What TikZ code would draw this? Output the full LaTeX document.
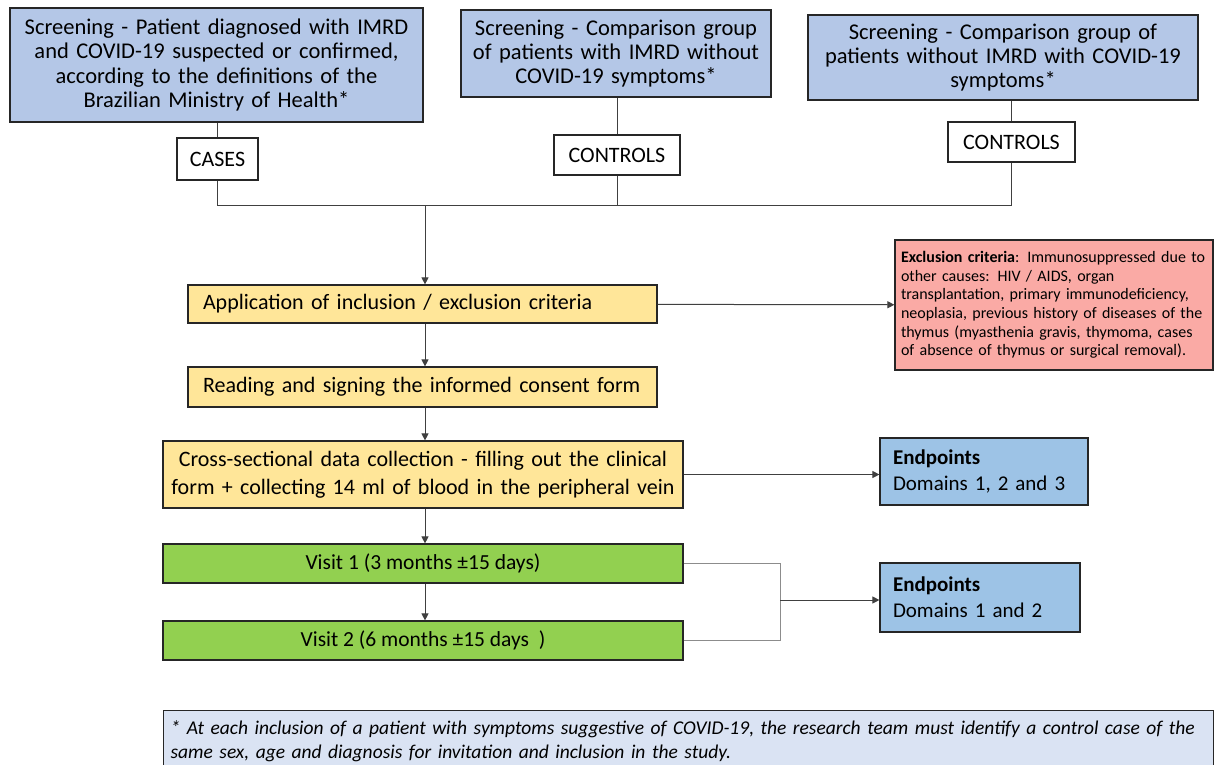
\documentclass[tikz,border=0pt]{standalone}
\usepackage{fontspec}
\setmainfont{Carlito}
\usetikzlibrary{arrows.meta}
\definecolor{topblue}{HTML}{B4C7E7}
\definecolor{ylw}{HTML}{FFE699}
\definecolor{pinkred}{RGB}{250,170,165}
\definecolor{endblue}{HTML}{9DC3E6}
\definecolor{grn}{HTML}{92D050}
\definecolor{footblue}{HTML}{DAE3F3}
\definecolor{bord}{HTML}{262626}
\tikzset{
  box/.style={draw=bord, line width=1.2pt, rectangle, inner sep=0pt, align=center},
  screen/.style={box, fill=topblue, font=\fontsize{22.5}{24.3}\selectfont},
  tag/.style={box, fill=white, font=\fontsize{22}{24}\selectfont},
  ybox/.style={box, fill=ylw, font=\fontsize{22}{28}\selectfont},
  gbox/.style={box, fill=grn, font=\fontsize{21.5}{26}\selectfont},
  ebox/.style={box, fill=endblue, font=\fontsize{21}{26}\selectfont, align=left},
  conn/.style={draw=black!75, line width=1pt},
  lconn/.style={draw=black!45, line width=1pt},
  arr/.style={conn, -{Triangle[length=7pt,width=7pt]}},
}
\begin{document}
\begin{tikzpicture}[x=1pt,y=-1pt]
\useasboundingbox (0,0) rectangle (1215,764);
% top screening boxes
\node[screen, minimum width=413, minimum height=114, text width=410] (A) at (216.5,65)
  {Screening - Patient diagnosed with IMRD\\ and COVID-19 suspected or confirmed,\\ according to the definitions of the\\ Brazilian Ministry of Health*};
\node[screen, minimum width=310, minimum height=87, text width=308] (B) at (616,53.5)
  {Screening - Comparison group\\ of patients with IMRD without\\ COVID-19 symptoms*};
\node[screen, minimum width=390, minimum height=85, text width=388] (C) at (1003,57.5)
  {Screening - Comparison group of\\ patients without IMRD with COVID-19\\ symptoms*};
% tags
\node[tag, minimum width=81, minimum height=42] (cases) at (217.5,159) {CASES};
\node[tag, minimum width=126, minimum height=40] (ctl1) at (617,155) {CONTROLS};
\node[tag, minimum width=127, minimum height=40] (ctl2) at (1011.5,142) {CONTROLS};
\coordinate (j) at (425,205);
% flow
\node[ybox, minimum width=469, minimum height=38, text width=439, align=left] (app) at (422.5,304)
  {Application of inclusion / exclusion criteria};
\node[box, fill=pinkred, minimum width=318, minimum height=130, text width=306, align=left,
      font=\fontsize{16}{18.6}\selectfont] (excl) at (1054,305)
  {\textbf{Exclusion criteria}: Immunosuppressed due to\\ other causes: HIV / AIDS, organ\\ transplantation, primary immunodeficiency,\\ neoplasia, previous history of diseases of the\\ thymus (myasthenia gravis, thymoma, cases\\ of absence of thymus or surgical removal).};
\node[ybox, minimum width=469, minimum height=40, text width=439, align=left] (cons) at (422.5,387)
  {Reading and signing the informed consent form};
\node[ybox, minimum width=520, minimum height=67, text width=516] (cross) at (423,474.5)
  {Cross-sectional data collection - filling out the clinical\\ form + collecting 14 ml of blood in the peripheral vein};
\node[ebox, minimum width=208, minimum height=67, text width=182] (end1) at (984,471.5)
  {\textbf{Endpoints}\\ Domains 1, 2 and 3};
\node[gbox, minimum width=520, minimum height=39] (v1) at (423,563.5) {Visit 1 (3 months ±15 days)};
\node[gbox, minimum width=520, minimum height=39] (v2) at (423,640.5) {Visit 2 (6 months ±15 days\ \ )};
\node[ebox, minimum width=200, minimum height=69, text width=174] (end2) at (980,597.5)
  {\textbf{Endpoints}\\ Domains 1 and 2};
\coordinate (m) at (780,600);
% footnote
\node[box, fill=footblue, minimum width=1050, minimum height=62, text width=1036, align=left,
      anchor=north west, font=\fontsize{19.5}{24}\selectfont\itshape] (foot) at (163,710)
  {* At each inclusion of a patient with symptoms suggestive of COVID-19, the research team must identify a control case of the\\ same sex, age and diagnosis for invitation and inclusion in the study.};
% connectors
\draw[conn] (cases.north) -- (cases.north |- A.south);
\draw[conn] (ctl1.north) -- (ctl1.north |- B.south);
\draw[conn] (ctl2.north) -- (ctl2.north |- C.south);
\draw[conn] (cases.south) |- (j);
\draw[conn] (ctl1.south) |- (j);
\draw[conn] (ctl2.south) |- (j);
\draw[arr] (j) -- (j |- app.north);
\draw[arr] (app) -- (excl);
\draw[arr] (app.south -| j) -- (cons.north -| j);
\draw[arr] (cons.south -| j) -- (cross.north -| j);
\draw[arr] (cross) -- (cross.east -| end1.west);
\draw[arr] (cross.south -| j) -- (v1.north -| j);
\draw[arr] (v1.south -| j) -- (v2.north -| j);
\draw[lconn] (v1.east) -| (m);
\draw[lconn] (v2.east) -| (m);
\draw[arr] (m) -- (m -| end2.west);
\end{tikzpicture}
\end{document}
